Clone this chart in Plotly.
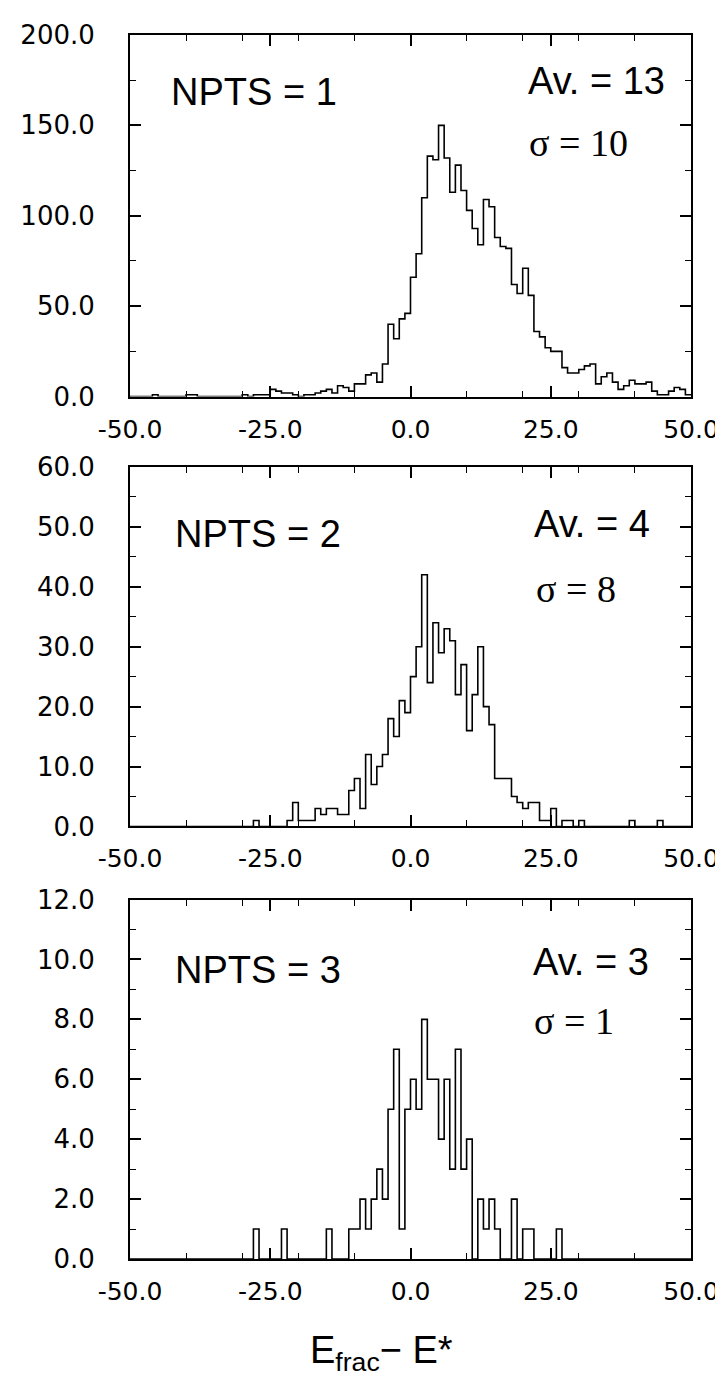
import plotly.graph_objects as go

# ---------------- data ----------------
bin_edges = list(range(-50, 51))  # 1-unit bins from -50 to 50

counts_npts1 = [
    0, 0, 0, 0, 1, 0, 0, 0, 0, 0,        # -50 .. -41
    1, 1, 0, 0, 0, 0, 0, 0, 0, 0,        # -40 .. -31
    1, 0, 1, 1, 1, 4, 3, 2, 2, 1,        # -30 .. -21
    0, 1, 1, 2, 3, 4, 2, 6, 5, 3,        # -20 .. -11
    7, 7, 12, 13, 8, 18, 40, 32, 43, 46,  # -10 .. -1
    66, 79, 110, 133, 131, 150, 132, 113, 128, 114,  # 0 .. 9
    103, 93, 84, 109, 105, 88, 83, 82, 62, 57,       # 10 .. 19
    71, 56, 36, 33, 27, 25, 25, 16, 13, 13,          # 20 .. 29
    15, 17, 18, 7, 11, 13, 8, 4, 6, 9,               # 30 .. 39
    7, 7, 8, 3, 1, 1, 3, 5, 4, 1,                    # 40 .. 49
]

counts_npts2 = [
    0, 0, 0, 0, 0, 0, 0, 0, 0, 0,        # -50 .. -41
    0, 0, 0, 0, 0, 0, 0, 0, 0, 0,        # -40 .. -31
    0, 0, 1, 0, 0, 0, 0, 0, 1, 4,        # -30 .. -21
    1, 1, 1, 3, 2, 3, 3, 2, 2, 6,        # -20 .. -11
    8, 3, 12, 7, 10, 12, 18, 15, 21, 19,  # -10 .. -1
    25, 30, 42, 24, 34, 29, 33, 31, 22, 27,  # 0 .. 9
    16, 22, 30, 20, 17, 8, 8, 8, 5, 4,       # 10 .. 19
    3, 4, 4, 1, 1, 3, 0, 1, 1, 0,            # 20 .. 29
    1, 0, 0, 0, 0, 0, 0, 0, 0, 1,            # 30 .. 39
    0, 0, 0, 0, 1, 0, 0, 0, 0, 0,            # 40 .. 49
]

counts_npts3 = [
    0, 0, 0, 0, 0, 0, 0, 0, 0, 0,        # -50 .. -41
    0, 0, 0, 0, 0, 0, 0, 0, 0, 0,        # -40 .. -31
    0, 0, 1, 0, 0, 0, 0, 1, 0, 0,        # -30 .. -21
    0, 0, 0, 0, 0, 1, 0, 0, 0, 1,        # -20 .. -11
    1, 2, 1, 2, 3, 2, 5, 7, 1, 5,        # -10 .. -1
    6, 5, 8, 6, 6, 4, 6, 3, 7, 3,        # 0 .. 9
    4, 0, 2, 1, 2, 1, 0, 0, 2, 0,        # 10 .. 19
    1, 1, 0, 0, 0, 0, 1, 0, 0, 0,        # 20 .. 29
    0, 0, 0, 0, 0, 0, 0, 0, 0, 0,        # 30 .. 39
    0, 0, 0, 0, 0, 0, 0, 0, 0, 0,        # 40 .. 49
]

x_tick_vals = [-50, -25, 0, 25, 50]
x_tick_text = ["-50.0", "-25.0", "0.0", "25.0", "50.0"]

y1_tick_vals = [0, 50, 100, 150, 200]
y1_tick_text = ["0.0", "50.0", "100.0", "150.0", "200.0"]
y2_tick_vals = [0, 10, 20, 30, 40, 50, 60]
y2_tick_text = ["0.0", "10.0", "20.0", "30.0", "40.0", "50.0", "60.0"]
y3_tick_vals = [0, 2, 4, 6, 8, 10, 12]
y3_tick_text = ["0.0", "2.0", "4.0", "6.0", "8.0", "10.0", "12.0"]

panel_labels = ["NPTS = 1", "NPTS = 2", "NPTS = 3"]
avg_labels = ["Av. = 13", "Av. = 4", "Av. = 3"]
sigma_labels = ["σ = 10", "σ = 8", "σ = 1"]
x_title = "E<sub>frac</sub>− E*"

# ---------------- figure ----------------
W, H = 723, 1379
fig = go.Figure()

series = [counts_npts1, counts_npts2, counts_npts3]
for i, c in enumerate(series):
    sfx = "" if i == 0 else str(i + 1)
    fig.add_trace(go.Scatter(
        x=bin_edges, y=c + [c[-1]], mode="lines", line_shape="hv",
        line=dict(color="black", width=1.6),
        xaxis="x" + sfx, yaxis="y" + sfx, showlegend=False, hoverinfo="skip"))

tick_font = dict(family="DejaVu Sans", size=25, color="black")

def xaxis_cfg(anchor):
    return dict(
        range=[-50, 50], anchor=anchor,
        tickmode="array", tickvals=x_tick_vals, ticktext=x_tick_text,
        ticks="inside", ticklen=11, tickwidth=1.5, tickcolor="black",
        minor=dict(dtick=10, tick0=0, ticks="inside", ticklen=6, tickwidth=1.3, tickcolor="black"),
        showline=True, linecolor="black", linewidth=2, mirror="ticks",
        showgrid=False, zeroline=False, tickfont=tick_font, ticklabelstandoff=9,
    )

def yaxis_cfg(anchor, rng, vals, text, minor_dtick, domain):
    return dict(
        range=rng, anchor=anchor, domain=domain,
        tickmode="array", tickvals=vals, ticktext=text,
        ticks="inside", ticklen=11, tickwidth=1.5, tickcolor="black",
        minor=dict(dtick=minor_dtick, tick0=0, ticks="inside", ticklen=6, tickwidth=1.3, tickcolor="black"),
        showline=True, linecolor="black", linewidth=2, mirror="ticks",
        showgrid=False, zeroline=False,
        tickfont=dict(family="DejaVu Sans", size=26, color="black"), ticklabelstandoff=28,
    )

fig.update_layout(
    width=W, height=H,
    margin=dict(l=122, r=35, t=22, b=128, pad=0),
    paper_bgcolor="white", plot_bgcolor="white",
    xaxis=xaxis_cfg("y"),
    xaxis2=xaxis_cfg("y2"),
    xaxis3=xaxis_cfg("y3"),
    yaxis=yaxis_cfg("x", [0, 200], y1_tick_vals, y1_tick_text, 25, [0.7046, 1.0]),
    yaxis2=yaxis_cfg("x2", [0, 60], y2_tick_vals, y2_tick_text, 5, [0.3534, 0.6471]),
    yaxis3=yaxis_cfg("x3", [0, 12], y3_tick_vals, y3_tick_text, 1, [0.0, 0.2937]),
)

sans = dict(family="Liberation Sans, Arial, sans-serif", size=38, color="black")
serif = dict(family="Liberation Serif, Times New Roman, serif", size=38, color="black")

npts_pos = [(0.070, 0.842), (0.076, 0.8136), (0.076, 0.803)]
avg_pos = [(0.706, 0.8726), (0.717, 0.841), (0.714, 0.825)]
sig_pos = [(0.708, 0.702), (0.720, 0.661), (0.716, 0.662)]

for i in range(3):
    sfx = "" if i == 0 else str(i + 1)
    for txt, (px, py), f in ((panel_labels[i], npts_pos[i], sans),
                             (avg_labels[i], avg_pos[i], sans),
                             (sigma_labels[i], sig_pos[i], serif)):
        fig.add_annotation(text=txt, x=px, y=py, xref="x" + sfx + " domain",
                           yref="y" + sfx + " domain", xanchor="left", yanchor="middle",
                           showarrow=False, font=f)

fig.add_annotation(text=x_title, x=0.449, y=-0.0765, xref="paper", yref="paper",
                   xanchor="center", yanchor="middle", showarrow=False, font=sans)

fig.write_html("out.html")
